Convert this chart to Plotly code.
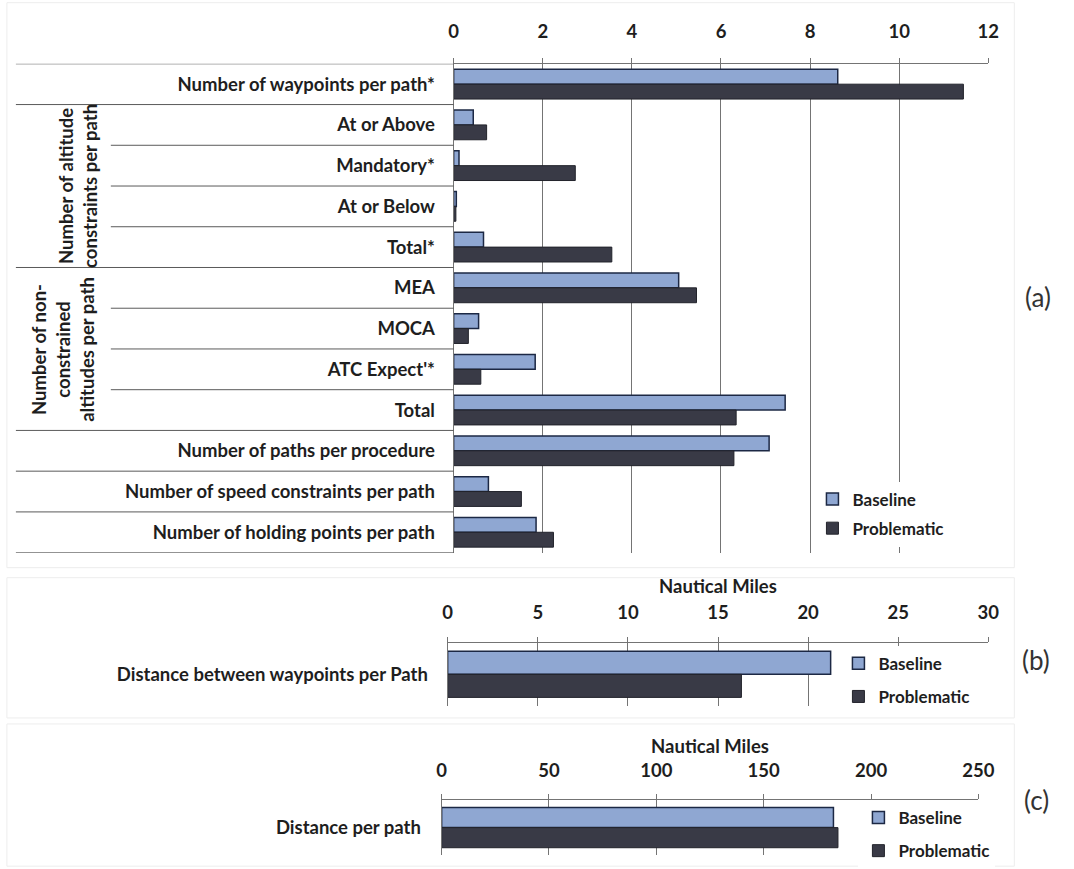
import plotly.graph_objects as go

W, H = 1074, 869

# ---- data -------------------------------------------------------------
rows_a = [
    "Number of waypoints per path*",
    "At or Above",
    "Mandatory*",
    "At or Below",
    "Total*",
    "MEA",
    "MOCA",
    "ATC Expect'*",
    "Total",
    "Number of paths per procedure",
    "Number of speed constraints per path",
    "Number of holding points per path",
]
# duplicate labels ("Total") need unique category keys
row_keys_a = [f"r{i}" for i in range(len(rows_a))]
baseline_a = [8.62, 0.44, 0.12, 0.06, 0.67, 5.05, 0.56, 1.83, 7.44, 7.08, 0.78, 1.85]
problematic_a = [11.44, 0.74, 2.73, 0.05, 3.55, 5.45, 0.33, 0.61, 6.34, 6.29, 1.52, 2.24]

rows_b = ["Distance between waypoints per Path"]
baseline_b = [21.25]
problematic_b = [16.3]

rows_c = ["Distance per path"]
baseline_c = [182.5]
problematic_c = [184.6]

group_labels = [
    ("Number of altitude<br>constraints per path", 1, 4),
    ("Number of non-<br>constrained<br>altitudes per path", 5, 8),
]

# ---- styling ----------------------------------------------------------
FONT = "Lato"
FS = 18.5
BASE_FILL = "#8fa7d2"
BASE_EDGE = "#1c2844"
PROB_FILL = "#393a46"
PROB_EDGE = "#22232b"
GRID = "#747474"
TXT = "#1e1e1e"


def px(x):
    """Screen pixel column -> paper fraction."""
    return ((x - 4.1) / 0.981) / W


def py(y):
    """Screen pixel row -> paper fraction (measured from the top)."""
    return 1 - ((y - 1.3) / 0.996) / H


fig = go.Figure()


def add_pair(xa, ya, keys, base, prob, legend):
    fig.add_trace(go.Bar(
        y=keys, x=base, orientation="h", name="Baseline",
        marker=dict(color=BASE_FILL, line=dict(color=BASE_EDGE, width=1.5)),
        xaxis=xa, yaxis=ya, legend=legend, legendgroup=legend + "b",
    ))
    fig.add_trace(go.Bar(
        y=keys, x=prob, orientation="h", name="Problematic",
        marker=dict(color=PROB_FILL, line=dict(color=PROB_EDGE, width=1)),
        xaxis=xa, yaxis=ya, legend=legend, legendgroup=legend + "p",
    ))


add_pair("x", "y", row_keys_a, baseline_a, problematic_a, "legend")
add_pair("x2", "y2", rows_b, baseline_b, problematic_b, "legend2")
add_pair("x3", "y3", rows_c, baseline_c, problematic_c, "legend3")

boldfont = dict(family=FONT, size=FS, color=TXT, weight="bold")

xcommon = dict(
    side="top", showgrid=True, gridcolor=GRID, gridwidth=1,
    zeroline=True, zerolinecolor=GRID, zerolinewidth=1,
    showline=True, linecolor=GRID, linewidth=1,
    ticks="outside", ticklen=5, tickcolor=GRID,
    tickfont=boldfont, fixedrange=True,
)
ycommon = dict(
    showgrid=False, zeroline=False, showline=True, linecolor=GRID,
    ticks="", tickfont=boldfont, fixedrange=True,
)

fig.update_layout(
    width=W, height=H,
    margin=dict(l=0, r=0, t=0, b=0),
    paper_bgcolor="white", plot_bgcolor="white",
    barmode="group", bargap=0.27, bargroupgap=0.0,
    font=dict(family=FONT, color=TXT),
    xaxis=dict(domain=[px(453), px(988)], range=[0, 12], dtick=2,
               anchor="y", ticklabelstandoff=12, **xcommon),
    yaxis=dict(domain=[py(553), py(65)], range=[11.5, -0.5],
               anchor="x", tickvals=row_keys_a, ticktext=rows_a,
               categoryorder="array", categoryarray=row_keys_a,
               ticklabelstandoff=14, **ycommon),
    xaxis2=dict(domain=[px(447), px(988)], range=[0, 30], dtick=5,
                anchor="y2", ticklabelstandoff=10,
                title=dict(text="Nautical Miles", standoff=2, font=boldfont),
                **xcommon),
    yaxis2=dict(domain=[py(706), py(643)], range=[0.5, -0.5],
                anchor="x2", ticklabelstandoff=15, **ycommon),
    xaxis3=dict(domain=[px(441), px(978)], range=[0, 250], dtick=50,
                anchor="y3", ticklabelstandoff=10,
                title=dict(text="Nautical Miles", standoff=0, font=boldfont),
                **xcommon),
    yaxis3=dict(domain=[py(855), py(800)], range=[0.5, -0.5],
                anchor="x3", ticklabelstandoff=16, **ycommon),
)

legend_style = dict(
    bgcolor="white", borderwidth=0, xanchor="left", yanchor="top",
    font=dict(family=FONT, size=17, color=TXT, weight="bold"),
    traceorder="grouped", itemclick=False, itemdoubleclick=False,
)
fig.update_layout(
    legend=dict(x=px(812), y=py(482), tracegroupgap=4, **legend_style),
    legend2=dict(x=px(838), y=py(646), tracegroupgap=8, **legend_style),
    legend3=dict(x=px(858), y=py(800), tracegroupgap=8, **legend_style),
)

# row separators in the label column of panel (a)
shapes = []
outer_bounds = [-0.5, 0.5, 4.5, 8.5, 9.5, 10.5, 11.5]
inner_bounds = [1.5, 2.5, 3.5, 5.5, 6.5, 7.5]
for b in outer_bounds:
    shapes.append(dict(type="line", xref="paper", yref="y",
                       x0=px(15), x1=px(453), y0=b, y1=b,
                       line=dict(color="#5a5a5a", width=1)))
for b in inner_bounds:
    shapes.append(dict(type="line", xref="paper", yref="y",
                       x0=px(110), x1=px(453), y0=b, y1=b,
                       line=dict(color="#5a5a5a", width=1)))

# faint panel frames
for (x0, y0, x1, y1) in [(6, 4, 1014, 568), (6, 578, 1014, 718), (6, 724, 1014, 866)]:
    shapes.append(dict(type="rect", xref="paper", yref="paper",
                       x0=px(x0), x1=px(x1), y0=py(y1), y1=py(y0),
                       line=dict(color="#ededed", width=1), layer="below"))
fig.update_layout(shapes=shapes)

annotations = []
# vertical group titles
for text, r0, r1 in group_labels:
    xc = 77 if text.count("<br>") == 1 else 62
    annotations.append(dict(
        text=text, textangle=-90, xref="paper", yref="y",
        x=px(xc), y=(r0 + r1) / 2, showarrow=False,
        xanchor="center", yanchor="middle", align="center",
        font=boldfont,
    ))
# panel tags
for tag, x, y in [("(a)", 1038, 298), ("(b)", 1036, 660), ("(c)", 1036, 800)]:
    annotations.append(dict(
        text=tag, xref="paper", yref="paper", x=px(x), y=py(y),
        showarrow=False, xanchor="center", yanchor="middle",
        font=dict(family=FONT, size=26, color="#333333"),
    ))
fig.update_layout(annotations=annotations)

fig.write_html(
    "out.html",
    post_script="document.body.style.margin='0';document.body.style.overflow='hidden';",
)
